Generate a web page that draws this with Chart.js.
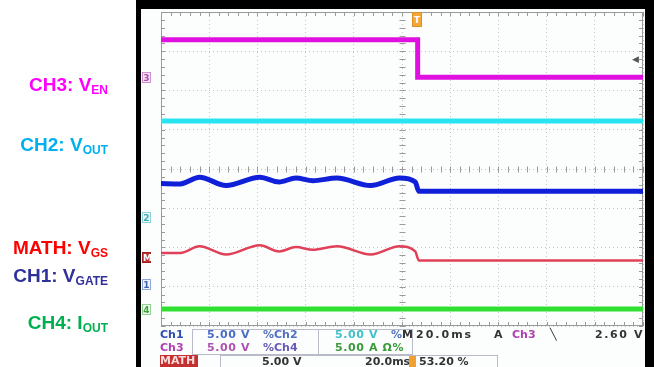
<!DOCTYPE html>
<html>
<head>
<meta charset="utf-8">
<script src="https://cdn.jsdelivr.net/npm/chart.js@4.4.0/dist/chart.umd.min.js"></script>
<style>
  html, body { margin: 0; padding: 0; background: #fff; }
  body { width: 654px; height: 367px; position: relative; overflow: hidden; font-family: "Liberation Sans", Arial, sans-serif; }
  #frame { position: absolute; left: 136px; top: 0; width: 518px; height: 380px; box-sizing: border-box;
           border-top: 9px solid #000; border-left: 5px solid #000; border-right: 9px solid #000; background: #fcfefe; }
  #scope { position: absolute; left: 0; top: 0; }
  .lbl { position: absolute; right: 546px; font-weight: bold; font-size: 19px; line-height: 1; white-space: nowrap; transform: translateY(-50%); }
  .lbl sub { font-size: 12px; vertical-align: -3px; }
  .mk { position: absolute; left: 142px; width: 9px; height: 11px; font: bold 9px "DejaVu Sans", sans-serif; line-height: 11px; text-align: center; border: 1px solid; box-sizing: border-box; }
  .ro { position: absolute; font: bold 11px "DejaVu Sans", sans-serif; line-height: 12px; white-space: nowrap; }
  .box { position: absolute; border: 1px solid #b8bcc8; box-sizing: border-box; }
</style>
</head>
<body>
<div id="frame"></div>
<canvas id="scope" width="654" height="367"></canvas>

<div class="lbl" style="top:85px;color:#ff00ff">CH3: V<sub>EN</sub></div>
<div class="lbl" style="top:145px;color:#00b0f0">CH2: V<sub>OUT</sub></div>
<div class="lbl" style="top:248px;color:#ff0000">MATH: V<sub>GS</sub></div>
<div class="lbl" style="top:276px;color:#30309a">CH1: V<sub>GATE</sub></div>
<div class="lbl" style="top:323px;color:#00b050">CH4: I<sub>OUT</sub></div>

<!-- channel ground markers -->
<div class="mk" style="top:72px;color:#b050b0;border-color:#d090d0;background:#f6e6f6">3</div>
<div class="mk" style="top:212px;color:#40a8b0;border-color:#90d0d8;background:#e8f8f8">2</div>
<div class="mk" style="top:252px;color:#fff;border-color:#a02020;background:#c03030">M</div>
<div class="mk" style="top:279px;color:#4060b0;border-color:#90a8d8;background:#eef2fa">1</div>
<div class="mk" style="top:304px;color:#40a040;border-color:#90d090;background:#eef8ee">4</div>
<!-- trigger markers -->
<div class="mk" style="left:412px;top:12px;width:10px;height:15px;line-height:15px;color:#fff;border-color:#e09020;background:#f2a838">T</div>
<div class="ro" style="left:632px;top:53px;color:#555;font-size:9px">&#9664;</div>

<!-- readout -->
<div class="box" style="left:192px;top:329px;width:127px;height:26px"></div>
<div class="box" style="left:318px;top:329px;width:95px;height:26px"></div>
<div class="box" style="left:220px;top:355px;width:278px;height:14px"></div>

<div class="ro" style="left:160px;top:329px;color:#3050b0">Ch1</div>
<div class="ro" style="left:207px;top:329px;color:#4a6ac8;letter-spacing:0.6px">5.00 V</div>
<div class="ro" style="left:263px;top:329px;color:#5070c0">%Ch2</div>
<div class="ro" style="left:335px;top:329px;color:#40c0c8;letter-spacing:0.6px">5.00 V</div>
<div class="ro" style="left:391px;top:329px;color:#5070c0">%</div>
<div class="ro" style="left:402px;top:329px;color:#333">M</div>
<div class="ro" style="left:416px;top:329px;color:#333;letter-spacing:2px">20.0ms</div>
<div class="ro" style="left:494px;top:329px;color:#333">A</div>
<div class="ro" style="left:512px;top:329px;color:#b040b0">Ch3</div>
<div class="ro" style="left:550px;top:329px;color:#333">&#9586;</div>
<div class="ro" style="left:595px;top:329px;color:#333;letter-spacing:1.6px">2.60 V</div>

<div class="ro" style="left:160px;top:342px;color:#b040b0">Ch3</div>
<div class="ro" style="left:207px;top:342px;color:#b050b0;letter-spacing:0.6px">5.00 V</div>
<div class="ro" style="left:263px;top:342px;color:#6a5ab8">%Ch4</div>
<div class="ro" style="left:335px;top:342px;color:#3a9a3a;letter-spacing:0.6px">5.00 A &#937;%</div>

<div class="ro" style="left:160px;top:355px;width:38px;color:#f8d8d8;background:#c43030">MATH</div>
<div class="ro" style="left:262px;top:356px;color:#333">5.00 V</div>
<div class="ro" style="left:365px;top:356px;color:#333">20.0ms</div>
<div class="ro" style="left:409px;top:356px;width:7px;height:11px;background:#f0a030"></div>
<div class="ro" style="left:419px;top:356px;color:#333">53.20 %</div>

<script>
/* time base: 20 ms/div, 10 divisions; vertical values in divisions */
const stepTime = [-100, 6.5, 6.5, 100];
const ch3Div = [3.29, 3.29, 2.34, 2.34];

const flatTime = [-100, 100];
const ch2Div = [1.22, 1.22];
const ch4Div = [-3.57, -3.57];

const waveTime = [-100, -92, -84, -73, -59, -51, -44, -37, -27, -13, -1, 5.5, 7, 100];
const ch1Div = [-0.37, -0.38, -0.21, -0.42, -0.21, -0.33, -0.23, -0.30, -0.23, -0.42, -0.23, -0.33, -0.57, -0.57];
const mathDiv = [-2.14, -2.14, -1.97, -2.18, -1.94, -2.10, -1.99, -2.06, -1.97, -2.18, -1.97, -2.10, -2.33, -2.33];

const toPoints = (xs, ys) => xs.map((t, i) => ({ x: t, y: ys[i] }));

/* graticule border, center cross and minor ticks */
const graticule = {
  id: 'graticule',
  beforeDatasetsDraw(chart) {
    const { ctx, chartArea: a, scales: { x, y } } = chart;
    const cx = Math.round(x.getPixelForValue(0)) + 0.5;
    const cy = Math.round(y.getPixelForValue(0)) + 0.5;
    ctx.save();
    ctx.strokeStyle = '#9a9a9a';
    ctx.lineWidth = 1;
    ctx.strokeRect(a.left + 0.5, a.top + 0.5, a.width - 1, a.height - 1);
    ctx.beginPath();
    for (let t = -100; t <= 100; t += 4) {
      const px = Math.round(x.getPixelForValue(t)) + 0.5;
      ctx.moveTo(px, cy - 3); ctx.lineTo(px, cy + 3);
      ctx.moveTo(px, a.top); ctx.lineTo(px, a.top + 4);
      ctx.moveTo(px, a.bottom); ctx.lineTo(px, a.bottom - 4);
    }
    for (let v = -4; v <= 4.001; v += 0.2) {
      const py = Math.round(y.getPixelForValue(v)) + 0.5;
      ctx.moveTo(cx - 3, py); ctx.lineTo(cx + 3, py);
      ctx.moveTo(a.left, py); ctx.lineTo(a.left + 4, py);
      ctx.moveTo(a.right, py); ctx.lineTo(a.right - 4, py);
    }
    ctx.stroke();
    ctx.restore();
  }
};

const ctx = document.getElementById('scope').getContext('2d');
// eslint-disable-next-line no-unused-vars
const scopeChart = new Chart(ctx, {
  type: 'line',
  data: {
    datasets: [
      { label: 'CH3', data: toPoints(stepTime, ch3Div), borderColor: '#e010e0', borderWidth: 5 },
      { label: 'CH2', data: toPoints(flatTime, ch2Div), borderColor: '#28e4f0', borderWidth: 5 },
      { label: 'CH1', data: toPoints(waveTime, ch1Div), borderColor: '#1020d8', borderWidth: 5, cubicInterpolationMode: 'monotone' },
      { label: 'MATH', data: toPoints(waveTime, mathDiv), borderColor: '#e04058', borderWidth: 2.5, cubicInterpolationMode: 'monotone' },
      { label: 'CH4', data: toPoints(flatTime, ch4Div), borderColor: '#30e030', borderWidth: 5 }
    ]
  },
  options: {
    responsive: false,
    animation: false,
    layout: { padding: { left: 161, right: 11, top: 12, bottom: 41 } },
    elements: { point: { radius: 0 }, line: { fill: false } },
    plugins: { legend: { display: false }, tooltip: { enabled: false } },
    scales: {
      x: {
        type: 'linear', min: -100, max: 100,
        ticks: { display: false, stepSize: 20 },
        grid: { color: '#c4c4c4', drawTicks: false },
        border: { display: false, dash: [1, 3] }
      },
      y: {
        type: 'linear', min: -4, max: 4,
        ticks: { display: false, stepSize: 1 },
        grid: { color: '#c4c4c4', drawTicks: false },
        border: { display: false, dash: [1, 3] }
      }
    }
  },
  plugins: [graticule]
});
</script>
</body>
</html>
